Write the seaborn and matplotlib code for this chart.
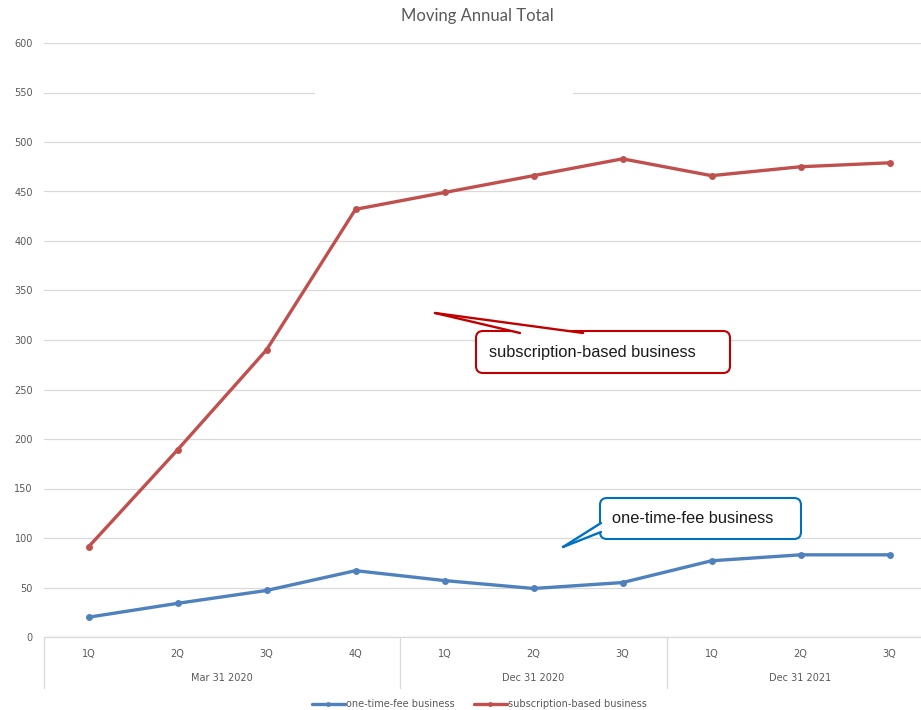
import numpy as np
import pandas as pd
import matplotlib
matplotlib.use("Agg")
import matplotlib.pyplot as plt
import matplotlib.transforms as mtransforms
from matplotlib.patches import FancyBboxPatch, Polygon, Rectangle
from matplotlib.lines import Line2D
import seaborn as sns

# ---- data -------------------------------------------------------------
quarters = ["1Q", "2Q", "3Q", "4Q", "1Q", "2Q", "3Q", "1Q", "2Q", "3Q"]
periods = ["Mar 31 2020", "Dec 31 2020", "Dec 31 2021"]
period_sizes = [4, 3, 3]
one_time_fee = [20, 34, 47, 67, 57, 49, 55, 77, 83, 83]
subscription = [91, 189, 290, 432, 449, 466, 483, 466, 475, 479]
series_names = ["one-time-fee business", "subscription-based business"]
series_colors = ["#4F81BD", "#C0504D"]
y_ticks = list(range(0, 601, 50))

# ---- figure setup -----------------------------------------------------
W, H = 921, 710
sns.set_theme(style="white")
plt.rcParams["font.family"] = ["DejaVu Sans"]

GRID = "#D9D9D9"
TXT = "#595959"

fig = plt.figure(figsize=(W / 100, H / 100), dpi=100)
fig.patch.set_facecolor("white")
ax = fig.add_axes([44 / W, (H - 637) / H, 890 / W, 594 / H])

# pixel coordinates measured from the top-left corner of the figure
px = mtransforms.Affine2D().scale(1, -1).translate(0, H)
x_px = mtransforms.blended_transform_factory(ax.transData, px)

# ---- series -----------------------------------------------------------
pos = np.arange(len(quarters))
df = pd.DataFrame({
    "pos": np.tile(pos, 2),
    "value": one_time_fee + subscription,
    "series": np.repeat(series_names, len(pos)),
})
sns.lineplot(data=df, x="pos", y="value", hue="series", hue_order=series_names,
             palette=series_colors, marker="o", markersize=5, markeredgewidth=0,
             linewidth=2.4, sort=False, legend=False, ax=ax, zorder=3)

# ---- axes -------------------------------------------------------------
ax.set_xlim(-0.5, len(quarters) - 0.5)
ax.set_ylim(0, 600)
ax.set_yticks(y_ticks)
ax.set_yticklabels([str(v) for v in y_ticks], fontsize=7, color=TXT)
ax.set_xticks(pos)
ax.set_xticklabels(quarters, fontsize=7, color=TXT)
ax.tick_params(axis="y", length=0, pad=8)
ax.tick_params(axis="x", length=0, pad=9)
ax.set_xlabel("")
ax.set_ylabel("")
ax.grid(axis="y", color=GRID, linewidth=0.9)
ax.grid(axis="x", visible=False)
for side in ["top", "right", "left"]:
    ax.spines[side].set_visible(False)
ax.spines["bottom"].set_color(GRID)
ax.spines["bottom"].set_linewidth(0.9)

# grouped period labels and separators under the quarter labels
bounds = np.concatenate([[-0.5], np.cumsum(period_sizes) - 0.5])
for b in bounds:
    fig.add_artist(Line2D([b, b], [637, 688], transform=x_px, color=GRID,
                          linewidth=0.9, clip_on=False))
for name, lo, hi in zip(periods, bounds[:-1], bounds[1:]):
    fig.text((lo + hi) / 2, 678, name, transform=x_px, ha="center", va="center",
             fontsize=7, color=TXT)

# break in the 550 gridline
fig.add_artist(Rectangle((315, 88), 258, 9, transform=px, facecolor="white",
                         edgecolor="none", zorder=2))

# ---- title ------------------------------------------------------------
fig.text(477, 16, "Moving Annual Total", transform=px, ha="center", va="center",
         fontsize=12, color=TXT, family=["Lato", "DejaVu Sans"])

# ---- legend -----------------------------------------------------------
handles = [Line2D([], [], color=c, marker="o", markersize=3.5, markeredgewidth=0,
                  linewidth=2.4) for c in series_colors]
fig.legend(handles, series_names, loc="center",
           bbox_to_anchor=(479 / W, 1 - 704 / H), ncol=2, frameon=False,
           fontsize=7, handlelength=3.4, handletextpad=0.1, columnspacing=2.0,
           labelcolor=TXT)


# ---- callouts ---------------------------------------------------------
def callout(x0, y0, x1, y1, tip, base_a, base_b, edge, label, text_x):
    box = FancyBboxPatch((x0, y0), x1 - x0, y1 - y0,
                         boxstyle="round,pad=0,rounding_size=7", transform=px,
                         facecolor="white", edgecolor=edge, linewidth=1.5, zorder=5)
    fig.add_artist(box)
    fig.add_artist(Polygon([tip, base_a, base_b], closed=True, transform=px,
                           facecolor="white", edgecolor="none", zorder=6))
    for b in (base_a, base_b):
        fig.add_artist(Line2D([tip[0], b[0]], [tip[1], b[1]], transform=px,
                              color=edge, linewidth=1.7, zorder=7,
                              solid_capstyle="round"))
    fig.text(text_x, (y0 + y1) / 2, label, transform=px, ha="left", va="center",
             fontsize=11.8, color="#1A1A1A", family=["Liberation Sans", "DejaVu Sans"],
             zorder=8)


callout(476, 331, 730, 373, (435, 313), (520, 333), (583, 333), "#C00000",
        "subscription-based business", 489)
callout(600, 498, 801, 539, (563, 547), (601, 523), (601, 532), "#0070C0",
        "one-time-fee business", 612)

fig.savefig("out.png", dpi=100, facecolor="white")
